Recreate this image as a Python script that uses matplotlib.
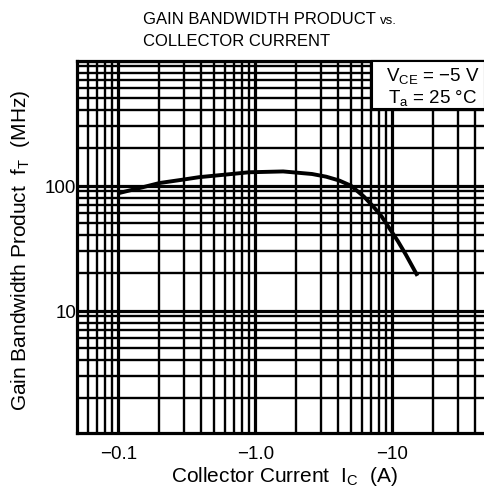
import matplotlib
matplotlib.use("Agg")
import matplotlib.pyplot as plt
from matplotlib.ticker import FixedLocator, NullFormatter
from matplotlib.patches import Rectangle

plt.rcParams['font.family'] = ['Liberation Sans', 'DejaVu Sans']

# Data (collector current magnitude in A, fT in MHz)
ic = [0.1, 0.15, 0.2, 0.3, 0.39, 0.6, 0.9, 1.6, 2.6, 3.3, 4.1, 5.0, 6.2, 7.2, 8.3, 9.5, 11, 12.6, 15.3]
ft = [87, 97, 105, 112, 117, 122.5, 128, 130, 124, 118, 110, 100, 82, 69, 57.5, 46, 36, 28, 19]

xtick_vals = [0.1, 1.0, 10]
xtick_labels = ['\u22120.1', '\u22121.0', '\u221210']
ytick_vals = [10, 100]
ytick_labels = ['10', '100']

W, H = 485, 502
fig = plt.figure(figsize=(W / 100, H / 100), dpi=100)
left, right, top, bottom = 77, 485, 61.7, 434
ax = fig.add_axes([left / W, 1 - bottom / H, (right - left) / W, (bottom - top) / H])

ax.set_xscale('log')
ax.set_yscale('log')
ax.set_xlim(0.05, 47.6)
ax.set_ylim(1.05, 1000)

# graph paper grid
minor_x = [m * 10.0 ** e for e in range(-2, 2) for m in range(2, 10)]
minor_y = [m * 10.0 ** e for e in range(0, 3) for m in range(2, 10)]
for v in minor_x:
    if 0.05 <= v <= 47.6:
        ax.axvline(v, color='black', lw=1.7, zorder=1)
for v in [0.1, 1.0, 10]:
    ax.axvline(v, color='black', lw=2.3, zorder=1)
for v in minor_y:
    ax.axhline(v, color='black', lw=1.7, zorder=1)
for v in [10, 100, 1000]:
    ax.axhline(v, color='black', lw=2.3, zorder=1)

ax.plot(ic, ft, color='black', lw=2.8, zorder=3, solid_capstyle='butt', solid_joinstyle='round')

ax.xaxis.set_major_locator(FixedLocator(xtick_vals))
ax.set_xticklabels(xtick_labels)
ax.xaxis.set_minor_formatter(NullFormatter())
ax.yaxis.set_major_locator(FixedLocator(ytick_vals))
ax.set_yticklabels(ytick_labels)
ax.yaxis.set_minor_formatter(NullFormatter())
ax.tick_params(which='both', length=0, labelsize=13.5)
ax.tick_params(axis='x', pad=9)
ax.tick_params(axis='y', pad=0.5)

for s in ['left', 'bottom', 'top']:
    ax.spines[s].set_linewidth(2.3)
ax.spines['right'].set_visible(False)

fig.text(284 / W, 1 - 477 / H, 'Collector Current  I$_\\mathregular{C}$  (A)', fontsize=15,
         ha='center', va='center')
fig.text(21 / W, 1 - 250 / H, 'Gain Bandwidth Product  f$_\\mathregular{T}$  (MHz)', fontsize=15,
         ha='center', va='center', rotation=90)

t1 = fig.text(143 / W, 1 - 20 / H, 'GAIN BANDWIDTH PRODUCT ', fontsize=12, ha='left', va='center')
fig.canvas.draw()
bb = t1.get_window_extent()
fig.text(bb.x1 / W, 1 - 20.5 / H, 'vs.', fontsize=9.5, ha='left', va='center')
fig.text(143 / W, 1 - 41.5 / H, 'COLLECTOR CURRENT', fontsize=12, ha='left', va='center')

# condition box
box = Rectangle((372 / W, 1 - 110 / H), (W - 372) / W, (110 - 62) / H,
                transform=fig.transFigure, facecolor='white', edgecolor='black', lw=1.5, zorder=5)
fig.patches.append(box)
fig.text(386 / W, 1 - 77 / H, 'V$_\\mathregular{CE}$ = \u22125 V', fontsize=13.5, ha='left', va='center', zorder=6)
fig.text(388 / W, 1 - 99 / H, 'T$_\\mathregular{a}$ = 25 \u00b0C', fontsize=13.5, ha='left', va='center', zorder=6)

fig.savefig('out.png', dpi=100)
